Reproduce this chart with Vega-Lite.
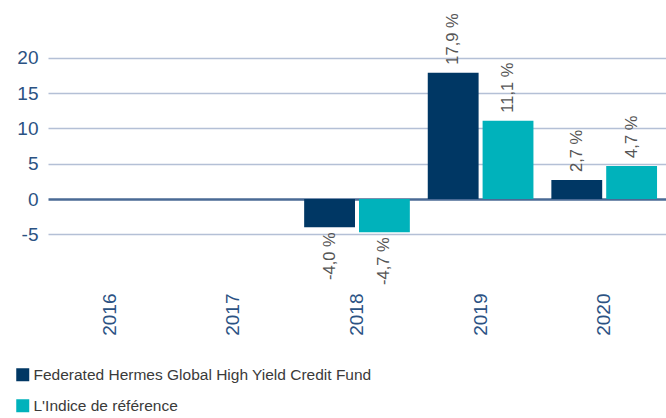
{
  "$schema": "https://vega.github.io/schema/vega-lite/v6.json",
  "width": 618,
  "height": 288,
  "autosize": {"type": "none"},
  "padding": {"left": 48, "top": 0, "right": 0, "bottom": 130},
  "background": "white",
  "config": {
    "view": {"stroke": null},
    "locale": {"number": {"decimal": ",", "thousands": " ", "grouping": [3], "currency": ["", " %"], "minus": "-"}},
    "font": "Liberation Sans"
  },
  "data": {
    "values": [
      {"year": "2018", "series": "Federated Hermes Global High Yield Credit Fund", "value": -4.0},
      {"year": "2018", "series": "L'Indice de référence", "value": -4.7},
      {"year": "2019", "series": "Federated Hermes Global High Yield Credit Fund", "value": 17.9},
      {"year": "2019", "series": "L'Indice de référence", "value": 11.1},
      {"year": "2020", "series": "Federated Hermes Global High Yield Credit Fund", "value": 2.7},
      {"year": "2020", "series": "L'Indice de référence", "value": 4.7}
    ]
  },
  "encoding": {
    "x": {
      "field": "year", "type": "nominal",
      "scale": {"domain": ["2016", "2017", "2018", "2019", "2020"], "paddingInner": 0.145, "paddingOuter": 0.0725},
      "axis": {"title": null, "labelAngle": -90, "labelAlign": "right", "labelBaseline": "middle", "labelPadding": 5, "ticks": false, "domain": false, "labelFontSize": 19, "labelColor": "#2b5283", "labelFont": "Liberation Sans"}
    },
    "xOffset": {"field": "series", "type": "nominal", "scale": {"paddingInner": 0.073, "paddingOuter": 0}},
    "y": {
      "field": "value", "type": "quantitative",
      "scale": {"domain": [-12.6, 28.2], "nice": false, "zero": false},
      "axis": {
        "title": null, "values": [-5, 0, 5, 10, 15, 20], "domain": false, "ticks": false,
        "labelPadding": 10, "labelFontSize": 19, "labelColor": "#2b5283", "labelFont": "Liberation Sans",
        "gridColor": {"condition": {"test": "datum.value === 0", "value": "#4a6a95"}, "value": "#b4c0d6"},
        "gridWidth": {"condition": {"test": "datum.value === 0", "value": 2.5}, "value": 1.5},
        "gridOpacity": 1
      }
    }
  },
  "layer": [
    {
      "mark": {"type": "bar"},
      "encoding": {
        "color": {
          "field": "series", "type": "nominal",
          "scale": {"domain": ["Federated Hermes Global High Yield Credit Fund", "L'Indice de référence"], "range": ["#003764", "#00b2bb"]},
          "legend": {
            "title": null, "orient": "none", "direction": "vertical", "legendX": -33, "legendY": 367,
            "symbolType": "square", "symbolSize": 169, "symbolStrokeWidth": 0, "symbolOpacity": 1,
            "labelFont": "Liberation Sans", "labelFontSize": 15.5, "labelColor": "#3a3a3a", "labelLimit": 0,
            "labelOffset": 3, "rowPadding": 14, "padding": 0
          }
        }
      }
    },
    {
      "transform": [{"filter": "datum.value >= 0"}],
      "mark": {"type": "text", "angle": 270, "align": "left", "baseline": "middle", "dx": 8, "fontSize": 16.5, "color": "#555555"},
      "encoding": {"text": {"field": "value", "type": "quantitative", "format": "$.1f"}}
    },
    {
      "transform": [{"filter": "datum.value < 0"}],
      "mark": {"type": "text", "angle": 270, "align": "right", "baseline": "middle", "dx": -5, "fontSize": 16.5, "color": "#555555"},
      "encoding": {"text": {"field": "value", "type": "quantitative", "format": "$.1f"}}
    }
  ]
}
